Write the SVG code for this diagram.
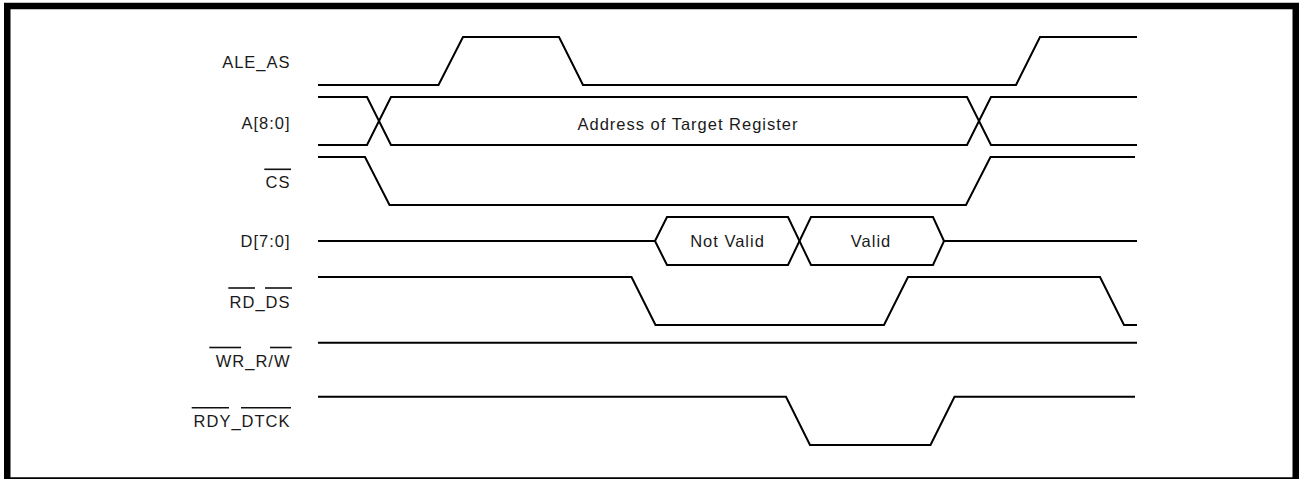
<svg xmlns="http://www.w3.org/2000/svg" width="1299" height="479" viewBox="0 0 1299 479">
<style>
.sig{fill:none;stroke:#000;stroke-width:2;stroke-linejoin:miter;stroke-linecap:butt}
.bar{stroke:#111;stroke-width:1.6}
.lbl{font-family:"Liberation Sans",Arial,sans-serif;font-size:16.5px;letter-spacing:1px;fill:#1a1a1a;text-anchor:end}
.val{font-family:"Liberation Sans",Arial,sans-serif;font-size:16.5px;letter-spacing:1px;fill:#1a1a1a;text-anchor:middle}
</style>
<rect x="0" y="0" width="1299" height="479" fill="#fff"/>
<rect x="7.25" y="6" width="1288.5" height="474.5" fill="none" stroke="#000" stroke-width="6.5"/>
<g id="labels">
<g id="lbl-ale"><text class="lbl" x="290.5" y="68.3">ALE_AS</text></g>
<g id="lbl-a"><text class="lbl" x="290.5" y="129">A[8:0]</text></g>
<g id="lbl-cs"><text class="lbl" x="290.5" y="188.3">CS</text><line class="bar" x1="264.3" y1="169.3" x2="291" y2="169.3"/></g>
<g id="lbl-d"><text class="lbl" x="290.5" y="246.7">D[7:0]</text></g>
<g id="lbl-rd"><text class="lbl" x="290.5" y="307.7">RD_DS</text><line class="bar" x1="228.3" y1="288" x2="255" y2="288"/><line class="bar" x1="265" y1="288" x2="292" y2="288"/></g>
<g id="lbl-wr"><text class="lbl" x="290.5" y="367">WR_R/W</text><line class="bar" x1="209.3" y1="347.5" x2="241" y2="347.5"/><line class="bar" x1="270" y1="347.5" x2="291.7" y2="347.5"/></g>
<g id="lbl-rdy"><text class="lbl" x="290.5" y="426.7">RDY_DTCK</text><line class="bar" x1="191.7" y1="407.7" x2="229" y2="407.7"/><line class="bar" x1="241" y1="407.7" x2="291" y2="407.7"/></g>
</g>
<g id="connectors">
<g id="sig-ale"><polyline class="sig" points="318,85 438.5,85 463,37 559,37 583,85 1016,85 1040,37 1137,37"/></g>
<g id="sig-a">
<polyline class="sig" points="318,97 367,97 391,145 967,145 991,97 1137,97"/>
<polyline class="sig" points="318,145 367,145 391,97 967,97 991,145 1137,145"/>
<text class="val" x="688" y="129.5">Address of Target Register</text>
</g>
<g id="sig-cs"><polyline class="sig" points="318,157 365,157 389.5,205 966,205 990.5,157 1135,157"/></g>
<g id="sig-d">
<polyline class="sig" points="318,241 655,241 667,217 788,217 811,265 933,265 944,241 1137,241"/>
<polyline class="sig" points="655,241 667,265 788,265 811,217 933,217 944,241"/>
<text class="val" x="727.5" y="246.7">Not Valid</text>
<text class="val" x="871" y="246.7">Valid</text>
</g>
<g id="sig-rd"><polyline class="sig" points="318,277 631.5,277 655.5,325 884,325 908,277 1100,277 1124,325 1137,325"/></g>
<g id="sig-wr"><polyline class="sig" points="318,342.7 1137,342.7"/></g>
<g id="sig-rdy"><polyline class="sig" points="318,396.7 786,396.7 810,445 930.5,445 954.5,396.7 1135,396.7"/></g>
</g>
</svg>
